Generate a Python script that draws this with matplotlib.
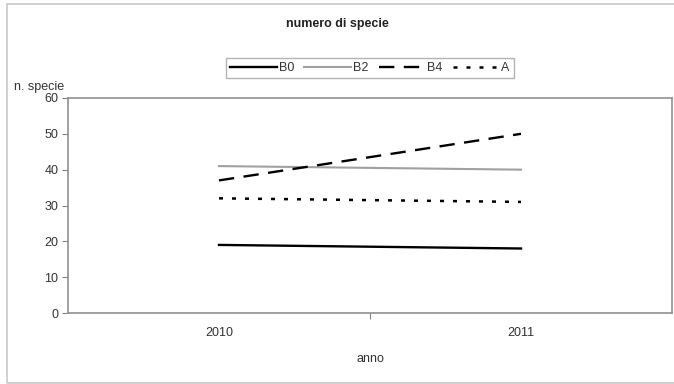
import matplotlib
matplotlib.use("Agg")
import matplotlib.pyplot as plt
from matplotlib.patches import Rectangle

plt.rcParams['font.family'] = ['Liberation Sans', 'DejaVu Sans']

years = ["2010", "2011"]
b0 = [19, 18]
b2 = [41, 40]
b4 = [37, 50]
a = [32, 31]

fig = plt.figure(figsize=(6.74, 3.84), dpi=100)

# outer chart-area frame (runs off the right edge)
fig.patches.append(Rectangle((7 / 674, 1 / 384), 700 / 674, 379 / 384,
                             transform=fig.transFigure, fill=False,
                             edgecolor='#c8c8c8', linewidth=1.2))

ax = fig.add_axes([68 / 674, 1 - 313 / 384, (672 - 68) / 674, (313 - 98) / 384])

x = list(range(len(years)))
ax.plot(x, b0, color='black', lw=1.7, label='B0')
ax.plot(x, b2, color='#a0a0a0', lw=1.5, label='B2')
ax.plot(x, b4, color='black', lw=1.7, dashes=(6.5, 4.0), label='B4')
ax.plot(x, a, color='black', lw=1.8, dashes=(1.6, 3.6), label='A')

ax.set_xlim(-0.5, len(years) - 0.5)
ax.set_ylim(0, 60)
ax.set_yticks(range(0, 61, 10))

# category labels centred, tick marks on category boundaries
ax.set_xticks([i + 0.5 for i in range(len(years) - 1)])
ax.set_xticklabels([])
ax.set_xticks(x, minor=True)
ax.set_xticklabels(years, minor=True)
ax.tick_params(axis='x', which='minor', length=0, pad=10, labelsize=9, colors='#333333')
ax.tick_params(axis='x', which='major', length=4, direction='out', color='#808080')
ax.tick_params(axis='y', length=4, direction='out', color='#808080', labelsize=9,
               labelcolor='#333333', pad=3)

for s in ax.spines.values():
    s.set_color('#909090')
    s.set_linewidth(1.2)

ax.set_xlabel('anno', fontsize=9, color='#333333', labelpad=10)
fig.text(14 / 674, 1 - 87 / 384, 'n. specie', fontsize=9, color='#333333', va='center')
fig.text(337 / 674, 1 - 24 / 384, 'numero di specie', fontsize=9, fontweight='bold',
         color='#222222', ha='center', va='center')

leg = fig.legend(loc='center', bbox_to_anchor=(370 / 674, 1 - 68 / 384), ncol=4,
                 frameon=True, fancybox=False, fontsize=9, handlelength=3.7,
                 handletextpad=0.2, columnspacing=0.8, borderpad=0.35,
                 edgecolor='#a0a0a0', borderaxespad=0)
leg.get_frame().set_linewidth(1.0)
for t in leg.get_texts():
    t.set_color('#333333')

fig.savefig('out.png', dpi=100)
